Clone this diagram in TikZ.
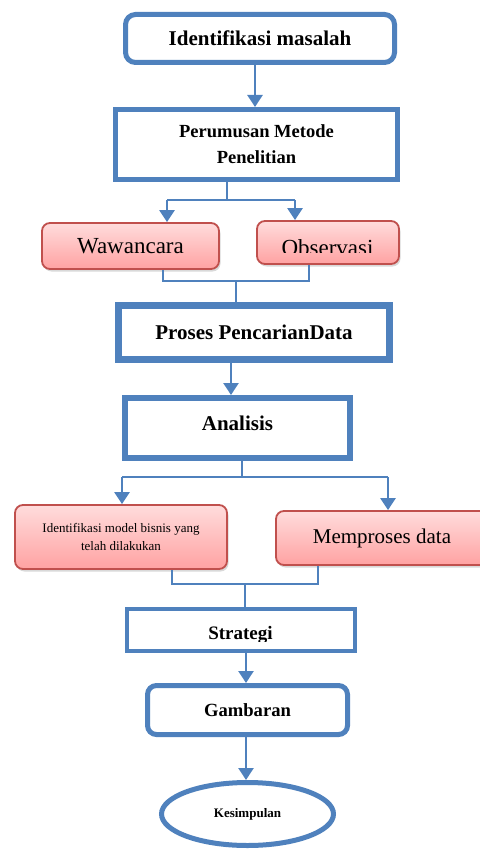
\documentclass[tikz,border=0pt]{standalone}
\usepackage{fontspec}
\setmainfont{Liberation Serif}
\usetikzlibrary{arrows.meta,shapes.geometric,shadows}
\definecolor{bl}{HTML}{4F81BD}
\definecolor{rb}{HTML}{C0504D}
\definecolor{rtop}{HTML}{FFDCDC}
\definecolor{rbot}{HTML}{FFA2A2}
\tikzset{
  bbox/.style={draw=bl, fill=white, inner sep=0pt, align=center},
  redbox/.style={draw=rb, line width=1.8pt, rounded corners=8pt, top color=rtop, bottom color=rbot,
     inner sep=0pt, align=center, drop shadow={shadow xshift=1.5pt, shadow yshift=-2.5pt, opacity=.3, fill=gray}},
  arr/.style={draw=bl, line width=2.5pt, -{Triangle[length=12pt,width=15pt]}},
  ln/.style={draw=bl, line width=2pt},
  fs/.style 2 args={font=\fontsize{#1}{#2}\selectfont},
}
\begin{document}
\begin{tikzpicture}[x=1pt,y=-1pt]
\useasboundingbox (0,0) rectangle (479,850);
% top boxes
\node[bbox, line width=5pt, rounded corners=10pt, minimum width=269pt, minimum height=48pt,
      fs={21}{25}, font=\bfseries\fontsize{21}{25}\selectfont] (n1) at (260,38.5) {Identifikasi masalah};
\node[bbox, line width=5pt, minimum width=282pt, minimum height=70pt,
      font=\bfseries\fontsize{18.5}{26}\selectfont] (n2) at (256.5,144.5) {Perumusan Metode\\Penelitian};
\draw[arr] (n1.south -| 255,0) -- (n2.north -| 255,0);
% Wawancara / Observasi
\node[redbox, minimum width=177pt, minimum height=46pt, font=\fontsize{23}{27}\selectfont] (w) at (130.5,246) {Wawancara};
\node[redbox, minimum width=142pt, minimum height=43pt] (o) at (328,242.5) {};
\begin{scope}
  \clip (256,220) rectangle (400,252.5);
  \node[anchor=base, inner sep=0pt, font=\fontsize{23}{27}\selectfont] (ot) at (327.5,255) {Observasi};
\end{scope}
\coordinate (j1) at (227,200);
\coordinate (wa) at (167,200);
\coordinate (oa) at (295,200);
\draw[ln] (n2.south -| j1) -- (j1);
\draw[ln] (wa) -- (oa);
\draw[arr] (wa) -- (wa |- w.north);
\draw[arr] (oa) -- (oa |- o.north);
% Proses
\node[bbox, line width=7pt, minimum width=271pt, minimum height=54pt,
      font=\bfseries\fontsize{21}{25}\selectfont] (p3) at (254,332.5) {Proses PencarianData};
\coordinate (j2) at (236,281);
\coordinate (wb) at (163,281);
\coordinate (ob) at (309,281);
\draw[ln] (w.south -| wb) -- (wb) -- (ob) -- (o.south -| ob);
\draw[ln] (j2) -- (p3.north -| j2);
% Analisis
\node[bbox, line width=6pt, minimum width=225pt, minimum height=60pt,
      font=\bfseries\fontsize{21}{25}\selectfont, text depth=10pt] (a) at (237.5,428) {Analisis};
\draw[arr] (p3.south -| 231,0) -- (a.north -| 231,0);
% Identifikasi model / Memproses
\node[redbox, minimum width=212pt, minimum height=64pt, font=\fontsize{13}{18}\selectfont] (im) at (121,537) {Identifikasi model bisnis yang\\telah dilakukan};
\node[redbox, minimum width=212pt, minimum height=54pt, font=\fontsize{21}{25}\selectfont] (md) at (382,538) {Memproses data};
\coordinate (j3) at (242,477);
\coordinate (ia) at (122,477);
\coordinate (ma) at (388,477);
\draw[ln] (a.south -| j3) -- (j3);
\draw[ln] (ia) -- (ma);
\draw[arr] (ia) -- (ia |- im.north);
\draw[arr] (ma) -- (ma |- md.north);
% Strategi
\node[bbox, line width=4pt, minimum width=228pt, minimum height=42pt] (s) at (241,630) {};
\begin{scope}
  \clip (125,607) rectangle (357,641);
  \node[anchor=base, inner sep=0pt, font=\bfseries\fontsize{19}{23}\selectfont] (st) at (240.5,639) {Strategi};
\end{scope}
\coordinate (j4) at (245,584);
\coordinate (ib) at (172,584);
\coordinate (mb) at (318,584);
\draw[ln] (im.south -| ib) -- (ib) -- (mb) -- (md.south -| mb);
\draw[ln] (j4) -- (s.north -| j4);
% Gambaran
\node[bbox, line width=5pt, rounded corners=9pt, minimum width=200pt, minimum height=49pt,
      font=\bfseries\fontsize{18.6}{22}\selectfont] (g) at (247.5,710) {Gambaran};
\draw[arr] (s.south -| 246,0) -- (g.north -| 246,0);
% Kesimpulan
\node[bbox, ellipse, line width=5pt, minimum width=172pt, minimum height=63pt,
      font=\bfseries\fontsize{13}{16}\selectfont] (k) at (247.5,814) {Kesimpulan};
\draw[arr] (g.south -| 246,0) -- (k.north -| 246,0);
\end{tikzpicture}
\end{document}
